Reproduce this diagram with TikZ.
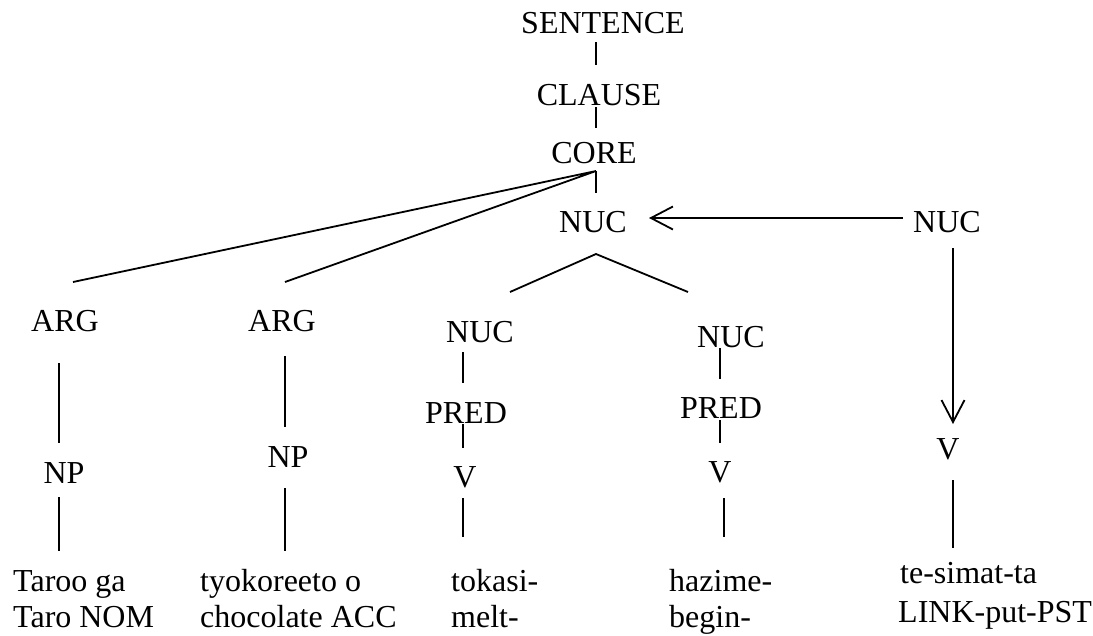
\documentclass[tikz,border=0pt]{standalone}
\usepackage{fontspec}
\setmainfont{Liberation Serif}
\usetikzlibrary{arrows.meta}
\begin{document}
\begin{tikzpicture}[x=1pt,y=-1pt,
  lbl/.style={inner sep=0pt, anchor=base, font=\fontsize{32}{38}\selectfont},
  leaf/.style={lbl, anchor=base west},
  edge/.style={line width=1.8pt},
  link/.style={edge, -{Straight Barb[length=22pt, width=23pt, line width=1.8pt]}}]
\useasboundingbox (0,0) rectangle (1093,635);

% clause spine
\node[lbl] (sentence) at (603,33) {SENTENCE};
\node[lbl] (clause)   at (599,105) {CLAUSE};
\node[lbl] (core)     at (594,163) {CORE};
\node[lbl] (nuc)      at (593,232) {NUC};
\node[lbl] (nucr)     at (947,232) {NUC};

% arguments
\node[lbl] (arg1) at (65,331) {ARG};
\node[lbl] (np1)  at (64,483) {NP};
\node[lbl] (arg2) at (282,331) {ARG};
\node[lbl] (np2)  at (288,467) {NP};

% nuclear juncture
\node[lbl] (nuca)  at (480,342) {NUC};
\node[lbl] (preda) at (466,423) {PRED};
\node[lbl] (va)    at (465,487) {V};
\node[lbl] (nucb)  at (731,347) {NUC};
\node[lbl] (predb) at (721,418) {PRED};
\node[lbl] (vb)    at (720,482) {V};
\node[lbl] (vc)    at (948,459) {V};

% words and glosses
\node[leaf] (w1)  at (13,591)  {Taroo ga};
\node[leaf] (g1)  at (13,627)  {Taro NOM};
\node[leaf] (w2)  at (200,591) {tyokoreeto o};
\node[leaf] (g2)  at (200,627) {chocolate ACC};
\node[leaf] (w3)  at (451,591) {tokasi-};
\node[leaf] (g3)  at (451,627) {melt-};
\node[leaf] (w4)  at (669,591) {hazime-};
\node[leaf] (g4)  at (669,627) {begin-};
\node[leaf] (w5)  at (900,583) {te-simat-ta};
\node[leaf] (g5)  at (898,622) {LINK-put-PST};

% branch points and line ends
\coordinate (sentence-b) at (596,42);
\coordinate (clause-t)   at (596,65);
\coordinate (clause-b)   at (596,107);
\coordinate (core-t)     at (596,128);
\coordinate (core-b)     at (596,171);
\coordinate (nuc-t)      at (596,193);
\coordinate (arg1-t)     at (73,282);
\coordinate (arg2-t)     at (285,282);
\coordinate (nuc-b)      at (596,254);
\coordinate (nuca-t)     at (510,292);
\coordinate (nucb-t)     at (688,292);
\coordinate (nucr-w)     at (903,218);
\coordinate (nuc-e)      at (649,218);
\coordinate (nucr-b)     at (953,248);
\coordinate (vc-t)       at (953,424);
\coordinate (vc-b)       at (953,480);
\coordinate (w5-t)       at (953,548);
\coordinate (arg1-b) at (59,363);  \coordinate (np1-t) at (59,443);
\coordinate (np1-b)  at (59,497);  \coordinate (w1-t)  at (59,551);
\coordinate (arg2-b) at (285,356); \coordinate (np2-t) at (285,427);
\coordinate (np2-b)  at (285,488); \coordinate (w2-t)  at (285,551);
\coordinate (nuca-b)  at (463,352); \coordinate (preda-t) at (463,383);
\coordinate (preda-b) at (463,424); \coordinate (va-t)    at (463,448);
\coordinate (va-b)    at (463,498); \coordinate (w3-t)    at (463,537);
\coordinate (nucb-b)  at (720,348); \coordinate (predb-t) at (720,379);
\coordinate (predb-b) at (720,420); \coordinate (vb-t)    at (720,443);
\coordinate (vb-b)    at (724,498); \coordinate (w4-t)    at (724,537);

% tree edges
\draw[edge] (sentence-b) -- (clause-t);
\draw[edge] (clause-b) -- (core-t);
\draw[edge] (arg1-t) -- (core-b) -- (arg2-t);
\draw[edge] (core-b) -- (nuc-t);
\draw[edge] (nuca-t) -- (nuc-b) -- (nucb-t);
\draw[edge] (arg1-b) -- (np1-t);
\draw[edge] (np1-b) -- (w1-t);
\draw[edge] (arg2-b) -- (np2-t);
\draw[edge] (np2-b) -- (w2-t);
\draw[edge] (nuca-b) -- (preda-t);
\draw[edge] (preda-b) -- (va-t);
\draw[edge] (va-b) -- (w3-t);
\draw[edge] (nucb-b) -- (predb-t);
\draw[edge] (predb-b) -- (vb-t);
\draw[edge] (vb-b) -- (w4-t);
\draw[edge] (vc-b) -- (w5-t);

% operator links
\draw[link] (nucr-w) -- (nuc-e);
\draw[link] (nucr-b) -- (vc-t);
\end{tikzpicture}
\end{document}
